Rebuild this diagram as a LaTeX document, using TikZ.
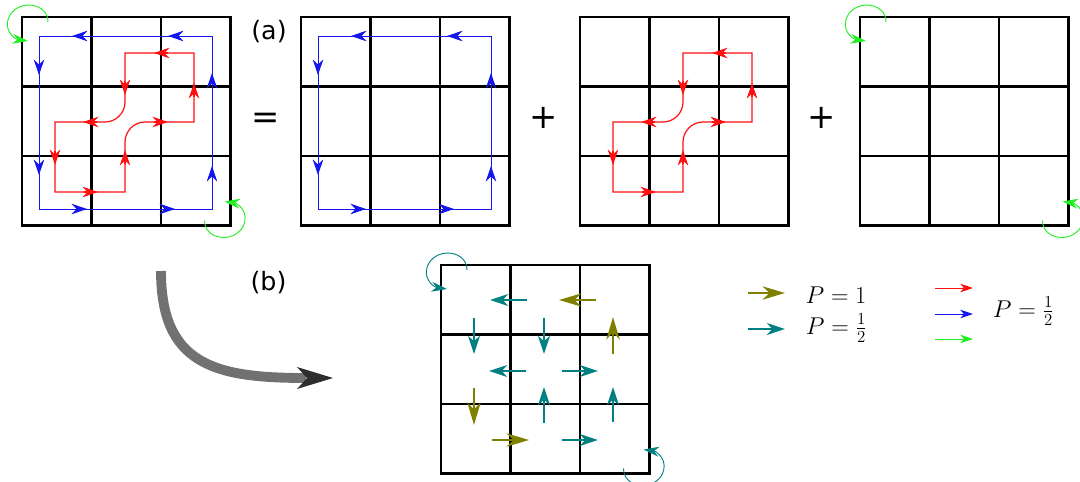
\documentclass[tikz,border=0pt]{standalone}
\usepackage{fontspec}
\newfontfamily\signfont{DejaVu Sans}
\usetikzlibrary{arrows.meta}
\definecolor{loopred}{HTML}{FF1010}
\definecolor{loopblue}{HTML}{1515F0}
\definecolor{loopgreen}{HTML}{22EE22}
\definecolor{pathteal}{HTML}{008080}
\definecolor{patholive}{HTML}{808000}
\definecolor{shaftgray}{HTML}{717171}
\definecolor{headgray}{HTML}{2E2E2E}
\tikzset{gridline/.style={line width=1.45pt,black},
  looparr/.style={-{Stealth[length=11pt,width=7.5pt,inset=3.5pt]}},
  redwire/.style={loopred,line width=0.85pt},bluewire/.style={loopblue,line width=0.7pt},
  tealarr/.style={pathteal,line width=0.9pt,-{Stealth[length=13pt,width=8.5pt,inset=4pt]}},
  olivearr/.style={patholive,line width=1.4pt,-{Stealth[length=16pt,width=9.5pt,inset=5pt]}},
  legarr/.style={line width=0.7pt,-{Stealth[length=9pt,width=6pt,inset=2.5pt]}},
  sign/.style={font=\signfont\fontsize{24}{28}\selectfont},
  tag/.style={font=\signfont\fontsize{18}{22}\selectfont},
  prob/.style={font=\fontsize{16.5}{20}\selectfont},
  lattice/.pic={\draw[gridline] (0,0) rectangle (208.5,208.5);
    \foreach \k in {69.5,139} {\draw[gridline] (\k,0) -- (\k,208.5); \draw[gridline] (0,\k) -- (208.5,\k);}},
  cornerloop/.pic={\draw[line width=0.65pt,-{Stealth[length=11pt,width=7pt,inset=3.5pt]}]
    (26,5) .. controls (26,-14) and (-2,-18) .. (-12,-2) .. controls (-20,12) and (-8,22) .. (6,24);},
  bluecircuit/.pic={\draw[bluewire] (190,19) -- (17,19) -- (17,192) -- (190,192) -- cycle;
    \foreach \xa/\ya/\xb/\yb in {64/19/50/19,160/19/146/19,17/44/17/58,17/144/17/158,51/192/65/192,139/192/153/192,190/70/190/56,190/163/190/149}
      \draw[bluewire,looparr] (\xa,\ya) -- (\xb,\yb);},
  redcircuit/.pic={\draw[redwire] (172,36) -- (103,36) -- (103,85) .. controls (103,96) and (94,105) .. (83,105) -- (33,105) -- (33,175)
      -- (103,175) -- (103,125) .. controls (103,114) and (112,105) .. (123,105) -- (172,105) -- cycle;
    \foreach \xa/\ya/\xb/\yb in {146/36/132/36,103/64/103/78,75/105/61/105,33/134/33/148,62/175/76/175,103/147/103/133,132/105/146/105,172/80/172/66}
      \draw[redwire,looparr] (\xa,\ya) -- (\xb,\yb);}}

\begin{document}
\begin{tikzpicture}[x=0.025cm,y=-0.025cm]
\useasboundingbox (0,0) rectangle (1080,481);
% (a): full configuration = blue loop + red loop + winding
\pic at (22,17) {lattice}; \pic at (22,17) {bluecircuit}; \pic at (22,17) {redcircuit};
\pic[loopgreen] at (22,17) {cornerloop}; \pic[loopgreen,rotate=180] at (230.5,225.5) {cornerloop};
\pic at (301,17) {lattice}; \pic at (301,17) {bluecircuit};
\pic at (580,17) {lattice}; \pic at (580,17) {redcircuit};
\pic at (860,17) {lattice};
\pic[loopgreen] at (860,17) {cornerloop}; \pic[loopgreen,rotate=180] at (1068.5,225.5) {cornerloop};
\node[tag] (taga) at (269,31.5) {(a)};
\node[sign] (eq) at (265.5,121) {=};
\node[sign] (plusa) at (544,117.5) {+};
\node[sign] (plusb) at (821.5,117.5) {+};
% (b): arrow configuration
\node[tag] (tagb) at (268.5,283) {(b)};
\draw[shaftgray,line width=7pt] (161,271) .. controls (161,365) and (215,378) .. (306,378);
\fill[headgray] (333,378) -- (297,367) -- (307,378) -- (297,389) -- cycle;
\pic at (441,265) {lattice};
\pic[pathteal] at (441,265) {cornerloop}; \pic[pathteal,rotate=180] at (649.5,473.5) {cornerloop};
\begin{scope}[shift={(441,265)}]
\foreach \xa/\ya/\xb/\yb in {86/35/49/35,33/53/33/89,103/53/103/89,85/106/48/106,121/106/157/106,103/158/103/122,172/157/172/122,121/175/157/175}
  \draw[tealarr] (\xa,\ya) -- (\xb,\yb);
\foreach \xa/\ya/\xb/\yb in {155/35/118/35,172/89/172/52,33/123/33/160,51/175/88/175}
  \draw[olivearr] (\xa,\ya) -- (\xb,\yb);
\end{scope}
% legend
\draw[olivearr] (748,293) -- (785,293);
\draw[tealarr] (748,329) -- (785,329);
\node[prob] (pone) at (836,295) {$P=1$};
\node[prob] (phalf) at (836.5,328) {$P=\frac{1}{2}$};
\draw[legarr,loopred] (935,288) -- (973,288);
\draw[legarr,loopblue] (935,314) -- (973,314);
\draw[legarr,loopgreen] (935,339) -- (973,339);
\node[prob] (ploop) at (1023.5,311.5) {$P=\frac{1}{2}$};
\end{tikzpicture}
\end{document}
